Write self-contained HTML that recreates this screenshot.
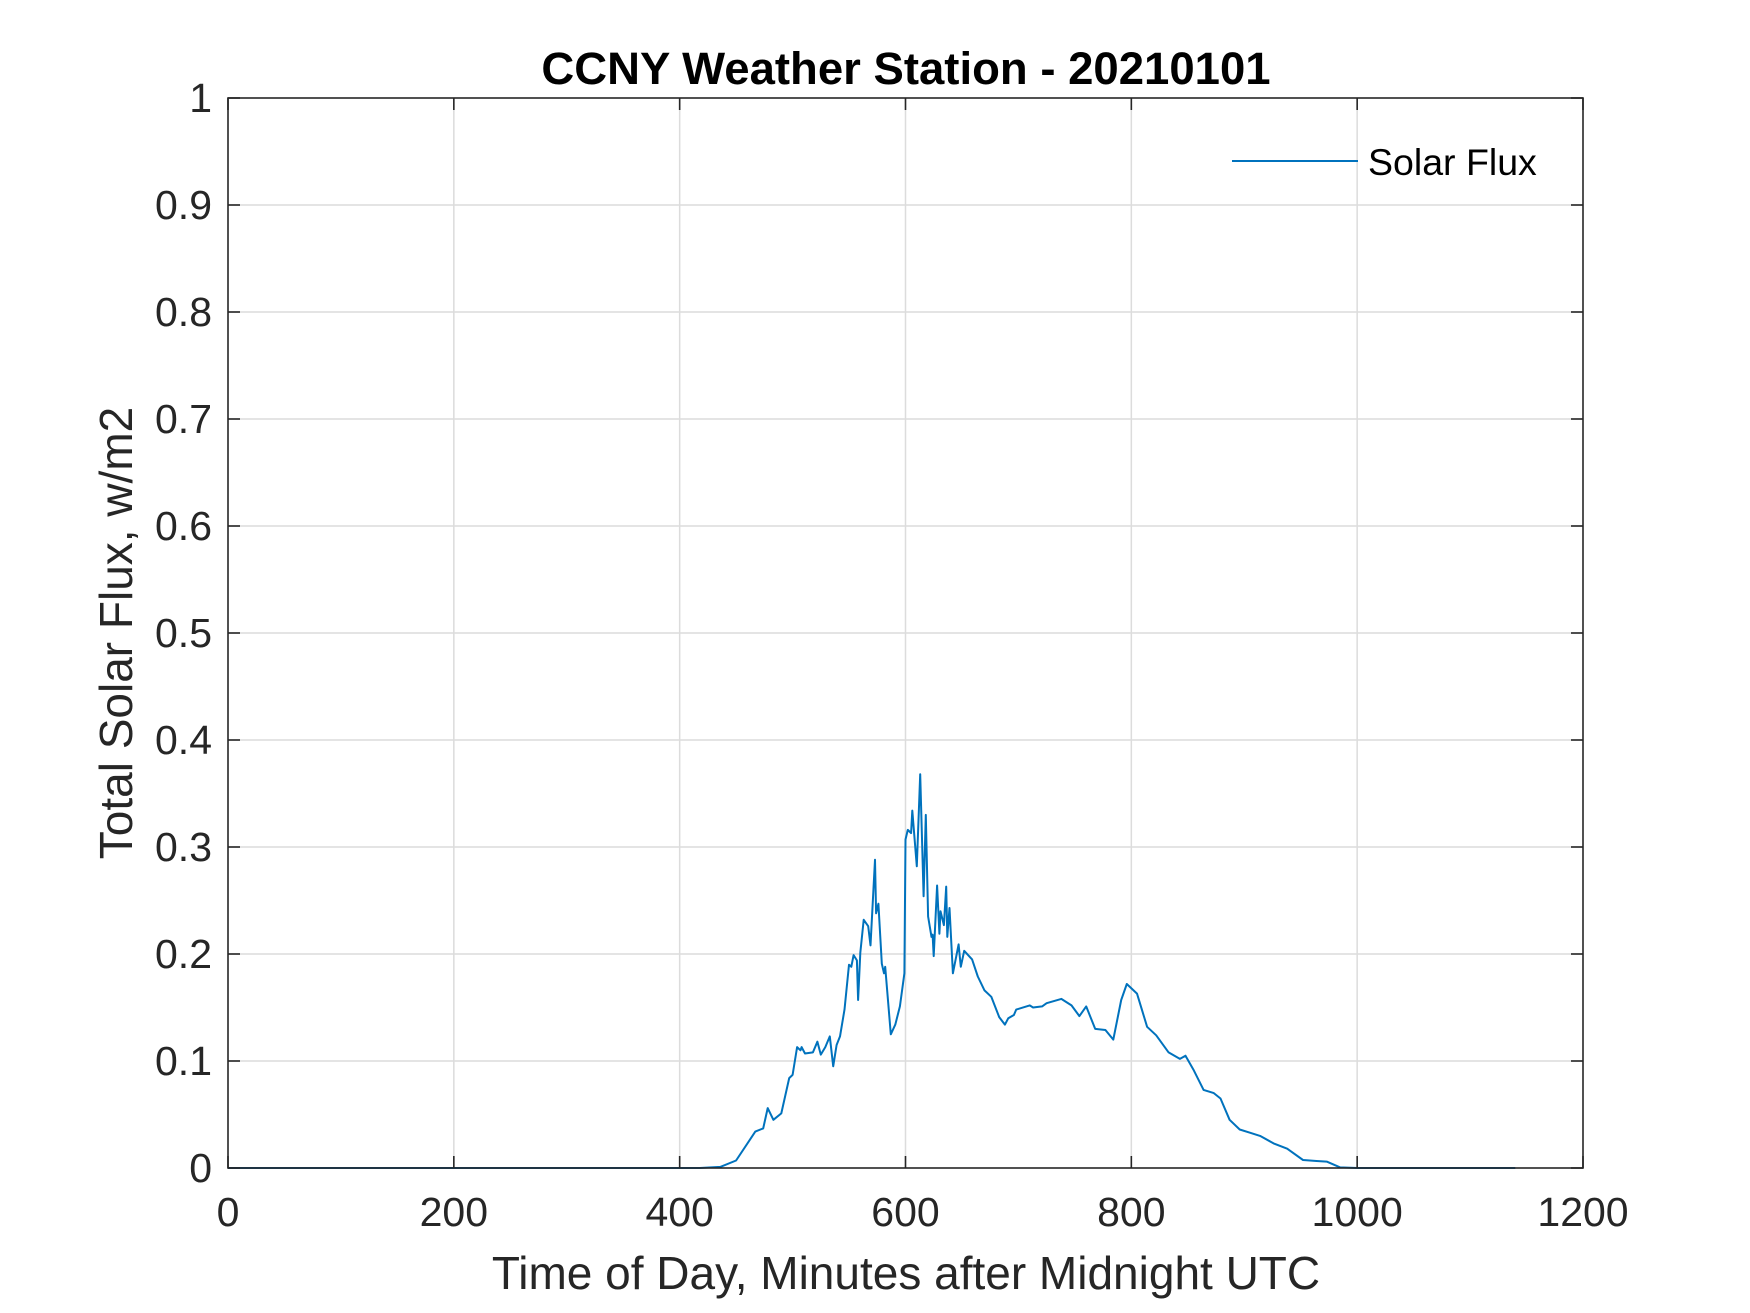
<!DOCTYPE html>
<html><head><meta charset="utf-8"><style>
html,body{margin:0;padding:0;background:#fff}
svg{display:block;font-family:"Liberation Sans",Arial,sans-serif}
</style></head><body>
<svg id="chart" width="1750" height="1313" viewBox="0 0 1750 1313">
<rect x="0" y="0" width="1750" height="1313" fill="#fff"/>
<g id="grid"></g>
<g id="series"></g>
<rect x="228" y="98" width="1355" height="1070" fill="none" stroke="#262626" stroke-width="1.6"/>
<g id="ticks"></g>
<text x="906" y="84" text-anchor="middle" font-size="45.5" font-weight="bold" fill="#000">CCNY Weather Station - 20210101</text>
<text x="906" y="1289" text-anchor="middle" font-size="46" fill="#262626">Time of Day, Minutes after Midnight UTC</text>
<text transform="translate(132,633) rotate(-90)" text-anchor="middle" font-size="46" fill="#262626">Total Solar Flux, w/m2</text>
<g>
<line x1="1232" y1="161" x2="1358" y2="161" stroke="#0072BD" stroke-width="2"/>
<text x="1368" y="175" font-size="37.5" fill="#000">Solar Flux</text>
</g>
</svg>
<script>
const xTicks = [0,200,400,600,800,1000,1200];
const yTicks = [0,0.1,0.2,0.3,0.4,0.5,0.6,0.7,0.8,0.9,1];
const yTickLabels = ["0","0.1","0.2","0.3","0.4","0.5","0.6","0.7","0.8","0.9","1"];
const minutes = [0,418,436,450,467,474,478,483,490,497,500,504,507,508,511,518,522,525,529,533,536,539,542,546,550,552,554,557,558,560,563,567,569,573,574,576,579,581,582,587,591,595,599,600,602,605,606,610,613,616,618,620,623,624,625,628,630,631,634,636,637,639,642,647,649,652,659,664,670,676,683,688,691,696,698,710,713,721,725,738,747,754,760,768,777,784,791,796,805,814,822,833,843,848,855,864,873,879,887,896,905,914,926,938,952,964,973,985,1000,1140];
const flux = [0,0,0.001,0.007,0.034,0.037,0.056,0.045,0.051,0.084,0.087,0.113,0.110,0.113,0.107,0.108,0.118,0.106,0.113,0.123,0.095,0.115,0.123,0.148,0.190,0.188,0.199,0.194,0.157,0.201,0.232,0.226,0.208,0.288,0.238,0.247,0.191,0.182,0.188,0.125,0.134,0.151,0.182,0.307,0.316,0.313,0.334,0.282,0.368,0.254,0.330,0.235,0.216,0.218,0.198,0.264,0.219,0.240,0.227,0.263,0.216,0.243,0.182,0.209,0.188,0.203,0.195,0.179,0.166,0.160,0.141,0.134,0.140,0.143,0.148,0.152,0.150,0.151,0.154,0.158,0.152,0.142,0.151,0.130,0.129,0.120,0.157,0.172,0.163,0.132,0.124,0.108,0.102,0.105,0.092,0.073,0.070,0.065,0.045,0.036,0.033,0.030,0.023,0.018,0.0075,0.0065,0.006,0.0006,0,0];

const NS='http://www.w3.org/2000/svg';
const L=228,R=1583,T=98,B=1168;
function xs(v){return L+(v-0)/(1200-0)*(R-L);}
function ys(v){return B-(v-0)/(1-0)*(B-T);}
const grid=document.getElementById('grid'), ticks=document.getElementById('ticks'), series=document.getElementById('series');
function mk(tag,attrs,parent){const e=document.createElementNS(NS,tag);for(const k in attrs)e.setAttribute(k,attrs[k]);parent.appendChild(e);return e;}
xTicks.forEach(t=>{
  const x=xs(t);
  if(t>0&&t<1200){const g=mk('line',{x1:x,y1:T,x2:x,y2:B,stroke:'#dcdcdc','stroke-width':1.5},grid);
  
  }
  const a=mk('line',{x1:x,y1:B,x2:x,y2:B-12,stroke:'#262626','stroke-width':1.6},ticks);
  
  
  const b=mk('line',{x1:x,y1:T,x2:x,y2:T+12,stroke:'#262626','stroke-width':1.6},ticks);
  
  
  const tx=mk('text',{x:x,y:B+58,'text-anchor':'middle','font-size':41,fill:'#262626'},ticks);
  tx.textContent=String(t);
  
  
});
yTicks.forEach((t,i)=>{
  const y=ys(t);
  if(t>0&&t<1){const g=mk('line',{x1:L,y1:y,x2:R,y2:y,stroke:'#dcdcdc','stroke-width':1.5},grid);
  
  }
  const a=mk('line',{x1:L,y1:y,x2:L+12,y2:y,stroke:'#262626','stroke-width':1.6},ticks);
  
  
  const b=mk('line',{x1:R,y1:y,x2:R-12,y2:y,stroke:'#262626','stroke-width':1.6},ticks);
  
  
  const tx=mk('text',{x:L-16,y:y+14,'text-anchor':'end','font-size':41,fill:'#262626'},ticks);
  tx.textContent=yTickLabels[i];
  
  
});
const pts=minutes.map((m,i)=>xs(m).toFixed(1)+','+ys(flux[i]).toFixed(1)).join(' ');
const pl=mk('polyline',{points:pts,fill:'none',stroke:'#0072BD','stroke-width':2,'stroke-linejoin':'round'},series);


</script>
</body></html>
